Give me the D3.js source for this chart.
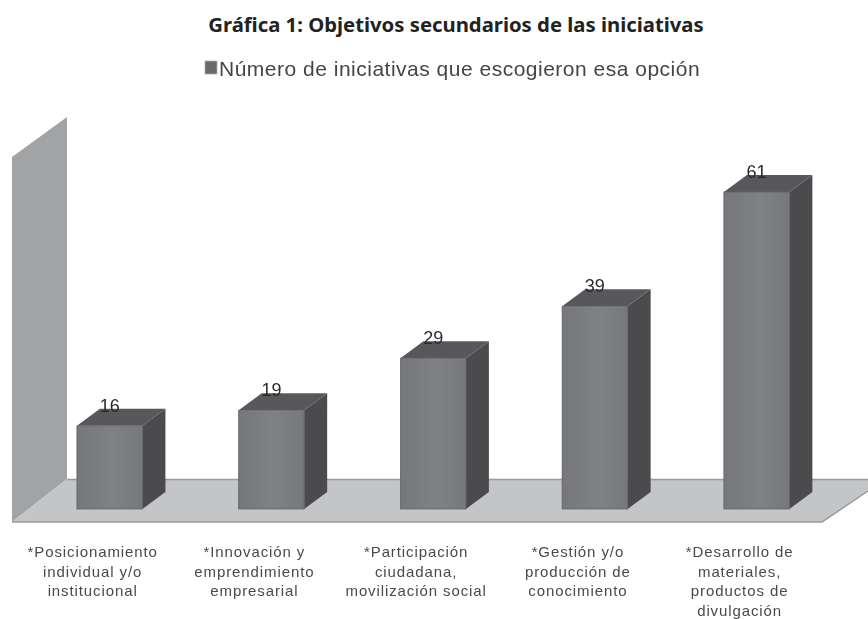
<!DOCTYPE html>
<html lang="es">
<head>
    <meta charset="UTF-8">
    <title>Objetivos secundarios de las iniciativas</title>
    <style>
        body { margin: 0; background: #fff; }
        svg { display: block; }
        .label { font: 15px "Liberation Sans", sans-serif; fill: #4a4a4a; letter-spacing: 0.9px; text-anchor: middle; }
        .value { font: 18px "Liberation Sans", sans-serif; fill: #2b2b2b; text-anchor: middle; }
    </style>
</head>
<body>
    <div id="chart"></div>
    <script src="https://d3js.org/d3.v7.min.js"></script>
    <script>
        // Data
        const categories = ["Posicionamiento", "Innovacion", "Participacion", "Gestion", "Desarrollo"];
        const values = [16, 19, 29, 39, 61];
        const tickLabels = [
          ["*Posicionamiento", "individual y/o", "institucional"],
          ["*Innovación y", "emprendimiento", "empresarial"],
          ["*Participación", "ciudadana,", "movilización  social"],
          ["*Gestión y/o", "producción de", "conocimiento"],
          ["*Desarrollo de", "materiales,", "productos de", "divulgación"]
        ];
        const title = "Gráfica 1: Objetivos secundarios de las iniciativas";
        const legendLabel = "Número de iniciativas que escogieron esa opción";

        var width = 868;
        var height = 619;

        // depth of the fake 3d
        const dx = 23;
        const dy = 17;

        const svg = d3.select("#chart").append("svg")
          .attr("width", width)
          .attr("height", height);

        const defs = svg.append("defs");
        defs.append("filter").attr("id", "soft")
          .append("feGaussianBlur").attr("stdDeviation", 0.55);
        const grad = defs.append("linearGradient").attr("id", "front");
        grad.append("stop").attr("offset", "0%").attr("stop-color", "#757779");
        grad.append("stop").attr("offset", "55%").attr("stop-color", "#7f8184");
        grad.append("stop").attr("offset", "100%").attr("stop-color", "#76787a");

        const x = d3.scaleBand()
          .domain(categories)
          .range([28.8, 837.5])
          .paddingInner(0.595)
          .paddingOuter(0.2975);

        const y = d3.scaleLinear()
          .domain([0, 61])
          .range([509, 192]);

        const poly = pts => pts.map(p => p.join(",")).join(" ");
        const g = svg.append("g").attr("filter", "url(#soft)");

        // Back wall and floor
        g.append("polygon")
          .attr("points", poly([[12, 157], [67, 117], [67, 479], [12, 522]]))
          .attr("fill", "#a1a3a5");
        g.append("polygon")
          .attr("points", poly([[12, 522], [67, 479], [868, 479], [868, 491], [822, 522]]))
          .attr("fill", "#c4c5c7");
        g.append("path")
          .attr("d", "M67,479.5H868M12,522H822L868,491")
          .attr("fill", "none")
          .attr("stroke", "#97999b")
          .attr("stroke-width", 1.5);

        // Bars
        const bar = g.selectAll(".bar")
          .data(values)
          .enter().append("g")
          .attr("class", "bar");

        bar.append("polygon")
          .attr("points", (d, i) => {
            const x1 = x(categories[i]) + x.bandwidth();
            return poly([[x1, y(d)], [x1 + dx, y(d) - dy], [x1 + dx, y(0) - dy], [x1, y(0)]]);
          })
          .attr("fill", "#4b4c4e");

        bar.append("polygon")
          .attr("points", (d, i) => {
            const x0 = x(categories[i]);
            const x1 = x0 + x.bandwidth();
            return poly([[x0, y(d)], [x0 + dx, y(d) - dy], [x1 + dx, y(d) - dy], [x1, y(d)]]);
          })
          .attr("fill", "#58595b");

        bar.append("rect")
          .attr("x", (d, i) => x(categories[i]))
          .attr("y", d => y(d))
          .attr("width", x.bandwidth())
          .attr("height", d => y(0) - y(d))
          .attr("fill", "url(#front)")
          .attr("stroke", "#636466")
          .attr("stroke-width", 0.8);

        // Value labels
        g.selectAll(".value")
          .data(values)
          .enter().append("text")
          .attr("class", "value")
          .attr("x", (d, i) => x(categories[i]) + x.bandwidth() / 2)
          .attr("y", d => y(d) - 14)
          .text(d => d);

        // Category labels
        g.selectAll(".label")
          .data(tickLabels)
          .enter().append("text")
          .attr("class", "label")
          .each(function(lines, i) {
            const cx = x(categories[i]) + x.bandwidth() / 2 - 17;
            d3.select(this).selectAll("tspan")
              .data(lines)
              .enter().append("tspan")
              .attr("x", cx)
              .attr("y", (l, j) => 557 + j * 19.7)
              .text(l => l);
          });

        // Legend
        g.append("rect")
          .attr("x", 205)
          .attr("y", 61)
          .attr("width", 12)
          .attr("height", 13)
          .attr("fill", "#6a6b6d")
          .attr("stroke", "#aaa")
          .attr("stroke-width", 0.7);
        g.append("text")
          .attr("x", 219)
          .attr("y", 76)
          .attr("font-family", "Liberation Sans, sans-serif")
          .attr("font-size", 21)
          .attr("letter-spacing", 0.5)
          .attr("fill", "#454545")
          .text(legendLabel);

        // Title
        svg.append("text")
          .attr("x", 456)
          .attr("y", 32)
          .attr("text-anchor", "middle")
          .attr("font-family", "Noto Sans, sans-serif")
          .attr("font-weight", "bold")
          .attr("font-size", 20.3)
          .attr("fill", "#222")
          .text(title);
    </script>
</body>
</html>
